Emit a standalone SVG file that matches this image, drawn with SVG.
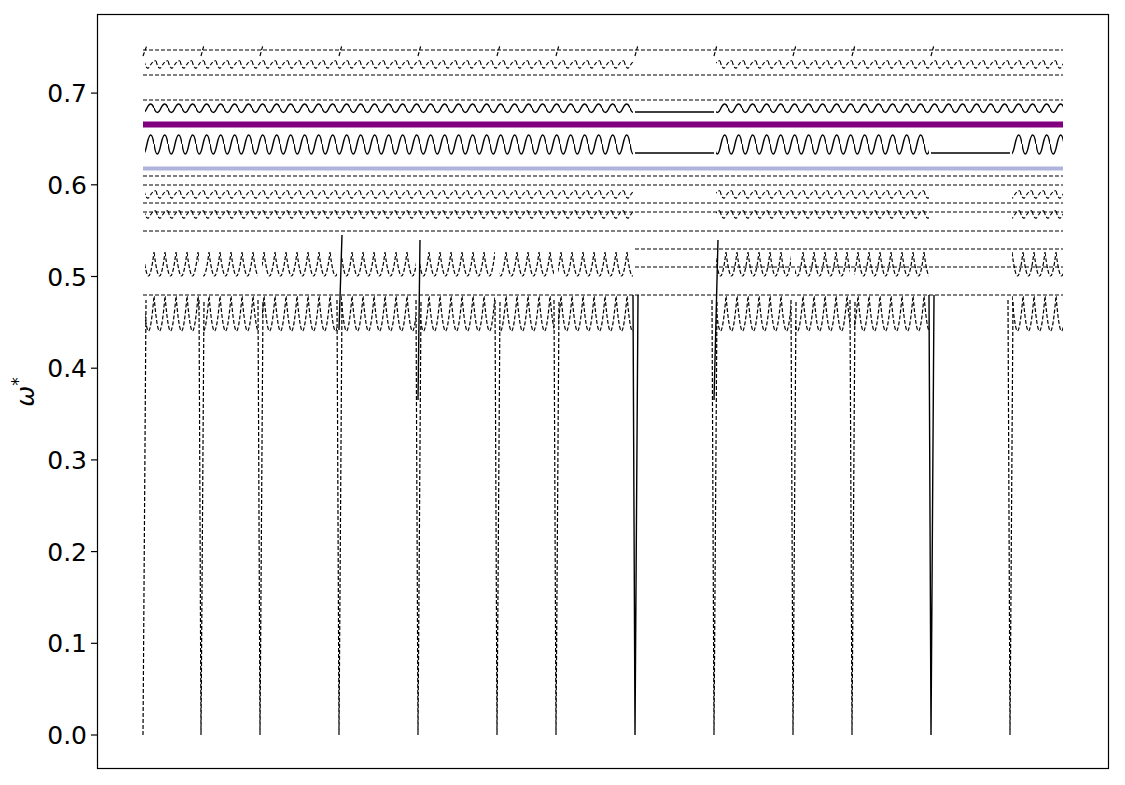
<svg xmlns="http://www.w3.org/2000/svg" width="1125" height="785" viewBox="0 0 1125 785">
<style>
.t{font-family:"DejaVu Sans",sans-serif;font-size:25px;fill:#000}
.d{fill:none;stroke:#000;stroke-width:1.2;stroke-dasharray:4 2}
.s{fill:none;stroke:#000;stroke-width:1.4}
</style>
<defs>
<pattern id="zz" width="11" height="40" patternUnits="userSpaceOnUse" x="0" y="295">
<path d="M0 1 Q3 36 5.5 36 Q8 36 11 1" class="d"/>
</pattern>
<pattern id="zm" width="11" height="40" patternUnits="userSpaceOnUse" y="250">
<path d="M0 2 Q3 26 5.5 26 Q8 26 11 2" class="d"/>
</pattern>
<pattern id="zs" width="14" height="34" patternUnits="userSpaceOnUse" y="132">
<path d="M0 12 Q3 32 7 12 Q11 -6 14 12" class="s"/>
</pattern>
<pattern id="zs2" width="14" height="16" patternUnits="userSpaceOnUse" y="102">
<path d="M0 6 Q3 15 7 6 Q11 -2 14 6" class="s"/>
</pattern>
<pattern id="zu" width="12" height="44" patternUnits="userSpaceOnUse" y="188">
<path d="M0 3 Q3 14 6 8 Q9 2 12 3M0 23 Q3 34 6 28 Q9 22 12 23" class="d"/>
</pattern>
<pattern id="zu2" width="12" height="16" patternUnits="userSpaceOnUse" y="58">
<path d="M0 3 Q3 14 6 8 Q9 2 12 3" class="d"/>
</pattern>
</defs>
<rect width="1125" height="785" fill="#fff"/>
<g id="axes">
<rect x="97.5" y="14.5" width="1011" height="754" fill="none" stroke="#000" stroke-width="1.2"/>
<g stroke="#000" stroke-width="1.2">
<line x1="91" y1="735" x2="97" y2="735"/><line x1="91" y1="643.3" x2="97" y2="643.3"/>
<line x1="91" y1="551.6" x2="97" y2="551.6"/><line x1="91" y1="459.9" x2="97" y2="459.9"/>
<line x1="91" y1="368.2" x2="97" y2="368.2"/><line x1="91" y1="276.5" x2="97" y2="276.5"/>
<line x1="91" y1="184.8" x2="97" y2="184.8"/><line x1="91" y1="93.1" x2="97" y2="93.1"/>
</g>
<g class="t" text-anchor="end">
<text x="87" y="744">0.0</text><text x="87" y="652">0.1</text><text x="87" y="561">0.2</text>
<text x="87" y="469">0.3</text><text x="87" y="377">0.4</text><text x="87" y="286">0.5</text>
<text x="87" y="194">0.6</text><text x="87" y="102">0.7</text>
</g>
<text class="t" transform="translate(34 392) rotate(-90)" text-anchor="middle" font-style="italic">ω<tspan dy="-10" font-size="17">*</tspan></text>
</g>
<g id="bands">
<g fill="url(#zz)">
<rect x="145" y="295" width="54" height="38"/><rect x="203" y="295" width="55" height="38"/>
<rect x="262" y="295" width="75" height="38"/><rect x="341" y="295" width="75" height="38"/>
<rect x="420" y="295" width="75" height="38"/><rect x="499" y="295" width="55" height="38"/>
<rect x="558" y="295" width="75" height="38"/><rect x="716" y="295" width="75" height="38"/>
<rect x="795" y="295" width="55" height="38"/><rect x="854" y="295" width="75" height="38"/>
<rect x="1012" y="295" width="51" height="38"/>
</g>
<g fill="url(#zm)">
<rect x="145" y="250" width="54" height="30"/><rect x="203" y="250" width="55" height="30"/>
<rect x="262" y="250" width="75" height="30"/><rect x="341" y="250" width="75" height="30"/>
<rect x="420" y="250" width="75" height="30"/><rect x="499" y="250" width="55" height="30"/>
<rect x="558" y="250" width="75" height="30"/><rect x="716" y="250" width="75" height="30"/>
<rect x="795" y="250" width="55" height="30"/><rect x="854" y="250" width="75" height="30"/>
<rect x="1012" y="250" width="51" height="30"/>
</g>
<g fill="url(#zu)">
<rect x="145" y="188" width="488" height="44"/><rect x="716" y="188" width="213" height="44"/>
<rect x="1012" y="188" width="51" height="44"/>
</g>
<g fill="url(#zu2)">
<rect x="145" y="58" width="488" height="16"/><rect x="716" y="58" width="347" height="16"/>
</g>
<g fill="url(#zs)">
<rect x="145" y="132" width="488" height="34"/><rect x="716" y="132" width="213" height="34"/>
<rect x="1012" y="132" width="51" height="34"/>
</g>
<g fill="url(#zs2)">
<rect x="145" y="102" width="488" height="16"/><rect x="716" y="102" width="347" height="16"/>
</g>
</g>
<g id="lines">
<path class="d" d="M143 50H1063M143 75H1063M143 100H1063M143 176H1063M143 185H1063M143 203H1063M143 212H1063M143 231H1063M635 249H1063M635 267H1063M143 295H1063"/>
<path class="s" d="M635 153H714M931 153H1010M635 112H714"/>
</g>
<g id="connectors">
<path class="d" d="M143 735L146 300M199 300L201 735L204 300M258 300L260 735L263 300M337 300L339 735L342 300M416 300L418 735L421 300M495 300L497 735L500 300M554 300L556 735L559 300M712 300L714 735L717 300M791 300L793 735L796 300M850 300L852 735L855 300M1008 300L1010 735L1013 300"/>
<path class="s" d="M633 295L635 735L638 295M929 295L931 735L934 295M714 400L718 240M418 400L420 240M339 330L342 235"/>
<path class="d" d="M143 56L147 45M201 56L204 45M260 56L263 45M339 56L342 45M418 56L421 45M497 56L500 45M556 56L559 45M635 56L638 45M714 56L717 45M793 56L796 45M852 56L855 45M931 56L934 45"/>
</g>
<g id="hlines">
<line x1="143" y1="168.5" x2="1063" y2="168.5" stroke="#b0b4dc" stroke-width="4"/>
<line x1="143" y1="124.5" x2="1063" y2="124.5" stroke="#800080" stroke-width="6"/>
</g>
</svg>
